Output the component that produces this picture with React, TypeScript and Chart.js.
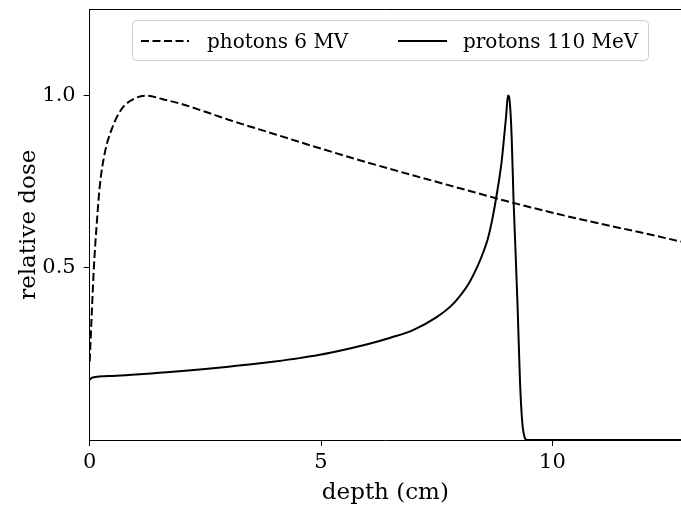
import React, { useEffect, useRef } from "react";
import { Chart, registerables } from "chart.js";

Chart.register(...registerables);

const photonDepth = [0, 0.04, 0.09, 0.15, 0.22, 0.33, 0.48, 0.69, 0.98, 1.23, 1.56, 2.0, 2.5, 3, 4, 5, 6, 7, 8, 9, 10, 11, 12, 12.78];
const photonDose = [0.228, 0.354, 0.5, 0.624, 0.74, 0.836, 0.904, 0.961, 0.992, 1.0, 0.99, 0.975, 0.953, 0.93, 0.888, 0.846, 0.806, 0.768, 0.731, 0.694, 0.66, 0.629, 0.6, 0.576];

const protonDepth = [0, 0.05, 0.5, 1, 1.5, 2, 2.5, 3, 3.5, 4, 4.5, 5, 5.5, 6, 6.5, 7, 7.5, 7.8, 8.0, 8.2, 8.4, 8.5, 8.6, 8.7, 8.8, 8.9, 8.95, 9.0, 9.04, 9.08, 9.12, 9.16, 9.2, 9.25, 9.3, 9.35, 9.4, 9.45, 10, 11, 12, 12.78];
const protonDose = [0.175, 0.181, 0.186, 0.19, 0.195, 0.2, 0.206, 0.213, 0.22, 0.228, 0.237, 0.248, 0.262, 0.278, 0.297, 0.32, 0.357, 0.388, 0.418, 0.456, 0.51, 0.543, 0.582, 0.64, 0.715, 0.805, 0.87, 0.94, 1.0, 0.98, 0.88, 0.7, 0.56, 0.38, 0.17, 0.05, 0.008, 0, 0, 0, 0, 0];

const xTicks = [0, 5, 10];
const yTicks = [0.5, 1.0];
const seriesLabels = ["photons 6 MV", "protons 110 MeV"];

const FONT = "'DejaVu Serif', serif";

const framePlugin = {
  id: "frame",
  afterDraw(chart: any) {
    const { ctx, chartArea } = chart;
    ctx.save();
    ctx.strokeStyle = "#000";
    ctx.lineWidth = 1;
    ctx.beginPath();
    ctx.moveTo(chartArea.left, chartArea.top);
    ctx.lineTo(chartArea.right, chartArea.top);
    ctx.stroke();

    const bx = 132.5, by = 20.5, bw = 516, bh = 40;
    ctx.beginPath();
    ctx.roundRect(bx, by, bw, bh, 4);
    ctx.fillStyle = "rgba(255,255,255,0.8)";
    ctx.fill();
    ctx.strokeStyle = "#cccccc";
    ctx.lineWidth = 1;
    ctx.stroke();

    const ly = 41;
    ctx.strokeStyle = "#000";
    ctx.lineWidth = 2;
    ctx.setLineDash([8, 3.5]);
    ctx.beginPath();
    ctx.moveTo(141, ly);
    ctx.lineTo(189, ly);
    ctx.stroke();
    ctx.setLineDash([]);
    ctx.beginPath();
    ctx.moveTo(398, ly);
    ctx.lineTo(447, ly);
    ctx.stroke();

    ctx.fillStyle = "#000";
    ctx.font = `20px ${FONT}`;
    ctx.textBaseline = "alphabetic";
    ctx.textAlign = "left";
    ctx.fillText(seriesLabels[0], 207, 48);
    ctx.fillText(seriesLabels[1], 463, 48);
    ctx.restore();
  },
};

export default function App() {
  const ref = useRef<HTMLCanvasElement>(null);
  useEffect(() => {
    document.body.style.margin = "0";
    const chart = new Chart(ref.current as HTMLCanvasElement, {
      type: "line",
      data: {
        datasets: [
          {
            label: seriesLabels[0],
            data: photonDepth.map((x, i) => ({ x, y: photonDose[i] })),
            borderColor: "#000",
            borderWidth: 2,
            borderDash: [8, 3.5],
            pointRadius: 0,
            cubicInterpolationMode: "monotone",
            fill: false,
          },
          {
            label: seriesLabels[1],
            data: protonDepth.map((x, i) => ({ x, y: protonDose[i] })),
            borderColor: "#000",
            borderWidth: 2,
            pointRadius: 0,
            cubicInterpolationMode: "monotone",
            fill: false,
          },
        ],
      },
      options: {
        responsive: false,
        animation: false,
        layout: { padding: { top: 9.5, right: 0, left: 0, bottom: 0 } },
        plugins: { legend: { display: false }, tooltip: { enabled: false } },
        scales: {
          x: {
            type: "linear",
            min: 0,
            max: 12.78,
            afterFit: (s: any) => {
              s.height = 72;
              s.paddingLeft = 0;
              s.paddingRight = 0;
            },
            afterBuildTicks: (s: any) => {
              s.ticks = xTicks.map((v) => ({ value: v }));
            },
            grid: { drawOnChartArea: false, drawTicks: true, tickLength: 6, color: "#000" },
            border: { display: true, color: "#000", width: 1 },
            ticks: { color: "#000", font: { family: FONT, size: 21 }, padding: 4, maxRotation: 0 },
            title: { display: true, text: "depth (cm)", color: "#000", font: { family: FONT, size: 23 }, padding: { top: 0, bottom: 5 } },
          },
          y: {
            type: "linear",
            min: 0,
            max: 1.25,
            afterFit: (s: any) => {
              s.width = 89.7;
              s.paddingTop = 0;
              s.paddingBottom = 0;
            },
            afterBuildTicks: (s: any) => {
              s.ticks = yTicks.map((v) => ({ value: v }));
            },
            grid: { drawOnChartArea: false, drawTicks: true, tickLength: 6, color: "#000" },
            border: { display: true, color: "#000", width: 1 },
            ticks: {
              color: "#000",
              font: { family: FONT, size: 21 },
              padding: 8,
              callback: (v: any) => Number(v).toFixed(1),
            },
            title: { display: true, text: "relative dose", color: "#000", font: { family: FONT, size: 23 }, padding: { top: 15, bottom: 0 } },
          },
        },
      },
      plugins: [framePlugin],
    } as any);
    return () => chart.destroy();
  }, []);
  return (
    <div style={{ position: "absolute", left: 0, top: 0, width: 681, height: 512 }}>
      <canvas ref={ref} width={681} height={512} />
    </div>
  );
}
